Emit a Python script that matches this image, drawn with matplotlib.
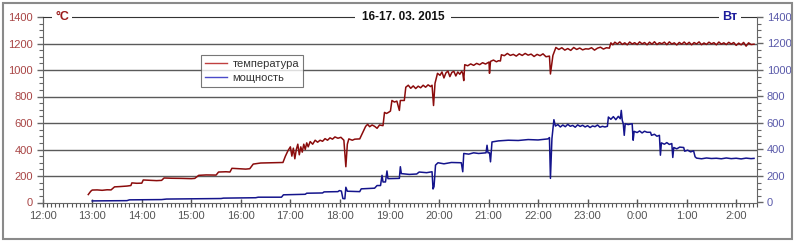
import matplotlib
matplotlib.use("Agg")
import matplotlib.pyplot as plt
from matplotlib.lines import Line2D
from matplotlib.patches import Rectangle
from matplotlib.ticker import MultipleLocator

# ---- data (hours after 12:00, values) ----
temp_t = [0.92, 0.97, 1.00, 1.10, 1.20, 1.30, 1.38, 1.45, 1.55, 1.70, 1.78, 1.80, 1.90, 2.00,
          2.03, 2.15, 2.30, 2.40, 2.45, 2.60, 2.80, 3.00, 3.07, 3.15, 3.30, 3.50, 3.55, 3.70,
          3.78, 3.82, 3.95, 4.10, 4.18, 4.25, 4.40, 4.60, 4.85, 4.90, 4.95, 5.00, 5.03, 5.06,
          5.09, 5.12, 5.15, 5.18, 5.21, 5.24, 5.27, 5.30, 5.33, 5.36, 5.40, 5.45, 5.50, 5.55,
          5.60, 5.65, 5.70, 5.75, 5.80, 5.85, 5.90, 5.96, 6.02, 6.08, 6.12, 6.15, 6.18, 6.25,
          6.30, 6.40, 6.45, 6.52, 6.56, 6.60, 6.65, 6.70, 6.75, 6.80, 6.87, 6.90, 6.94, 6.98,
          7.02, 7.05, 7.10, 7.15, 7.20, 7.22, 7.30, 7.33, 7.38, 7.43, 7.48, 7.53, 7.58, 7.63,
          7.68, 7.73, 7.78, 7.83, 7.86, 7.89, 7.92, 7.97, 8.02, 8.06, 8.10, 8.14, 8.18, 8.22,
          8.26, 8.30, 8.34, 8.38, 8.42, 8.46, 8.48, 8.50, 8.52, 8.58, 8.64, 8.70, 8.76, 8.82,
          8.88, 8.94, 9.01, 9.02, 9.04, 9.10, 9.16, 9.20, 9.24, 9.26, 9.32, 9.38, 9.44, 9.50,
          9.56, 9.62, 9.68, 9.74, 9.80, 9.86, 9.92, 9.98, 10.04, 10.10, 10.16, 10.23, 10.25,
          10.30, 10.36, 10.42, 10.48, 10.54, 10.60, 10.66, 10.72, 10.78, 10.84, 10.90, 10.96,
          11.02, 11.08, 11.14, 11.20, 11.26, 11.32, 11.38, 11.44, 11.47, 11.51, 11.55, 11.60,
          11.65, 11.70, 11.75, 11.80, 11.85, 11.90, 11.95, 12.00, 12.05, 12.10, 12.15, 12.20,
          12.25, 12.30, 12.35, 12.40, 12.45, 12.50, 12.55, 12.60, 12.65, 12.70, 12.75, 12.80,
          12.85, 12.90, 12.95, 13.00, 13.05, 13.10, 13.15, 13.20, 13.25, 13.30, 13.35, 13.40,
          13.45, 13.50, 13.55, 13.60, 13.65, 13.70, 13.75, 13.80, 13.85, 13.90, 13.95, 14.00,
          14.05, 14.10, 14.15, 14.20, 14.25, 14.30, 14.36]
temp_v = [60, 85, 94, 95, 92, 96, 95, 118, 120, 124, 128, 148, 145, 146,
          170, 168, 165, 167, 185, 183, 182, 180, 182, 205, 208, 207, 230, 232,
          230, 258, 255, 252, 255, 290, 298, 300, 302, 350, 390, 420, 350, 410,
          330, 400, 440, 360, 420, 380, 440, 400, 450, 420, 460, 440, 470, 455,
          470, 462, 482, 470, 488, 478, 495, 485, 492, 470, 270, 440, 480, 470,
          478, 480, 520, 575, 590, 572, 585, 575, 560, 585, 580, 680, 672, 680,
          690, 770, 758, 765, 695, 770, 770, 870, 885, 862, 880, 860, 878, 866,
          885, 870, 888, 875, 885, 732, 900, 975, 960, 985, 940, 978, 992, 950,
          982, 990, 955, 985, 968, 990, 975, 920, 1040, 1032, 1046, 1035, 1050, 1040,
          1055, 1045, 1060, 975, 1065, 1075, 1062, 1070, 1068, 1115, 1108, 1125, 1110, 1118,
          1105, 1122, 1110, 1125, 1112, 1120, 1102, 1118, 1108, 1122, 1100, 1105, 970,
          1110, 1170, 1155, 1168, 1150, 1162, 1148, 1170, 1155, 1166, 1152, 1160,
          1158, 1168, 1150, 1165, 1172, 1158, 1168, 1165, 1205, 1190, 1210, 1196,
          1212, 1193, 1205, 1190, 1211, 1196, 1206, 1192, 1212, 1197, 1207, 1190,
          1210, 1195, 1213, 1192, 1206, 1198, 1210, 1191, 1212, 1196, 1205, 1189,
          1208, 1195, 1211, 1193, 1209, 1190, 1207, 1196, 1212, 1191, 1204, 1193,
          1210, 1197, 1206, 1190, 1211, 1195, 1205, 1192, 1209, 1196, 1207, 1186,
          1203, 1190, 1208, 1180, 1205, 1192, 1195]

power_t = [1.00, 1.70, 1.75, 2.40, 2.50, 3.60, 3.65, 4.30, 4.35, 4.82, 4.86, 5.30, 5.33, 5.65,
           5.68, 5.96, 5.99, 6.03, 6.06, 6.10, 6.12, 6.15, 6.40, 6.43, 6.70, 6.75, 6.82, 6.85,
           6.87, 6.92, 6.95, 6.97, 7.20, 7.22, 7.24, 7.40, 7.55, 7.60, 7.75, 7.86, 7.88, 7.90,
           7.93, 7.98, 8.10, 8.25, 8.45, 8.48, 8.50, 8.60, 8.70, 8.80, 8.95, 8.97, 8.99, 9.02,
           9.04, 9.07, 9.20, 9.40, 9.60, 9.80, 10.00, 10.20, 10.23, 10.25, 10.28, 10.32, 10.35,
           10.40, 10.45, 10.50, 10.55, 10.60, 10.65, 10.70, 10.75, 10.80, 10.85, 10.90, 10.95,
           11.00, 11.05, 11.10, 11.15, 11.20, 11.25, 11.30, 11.35, 11.40, 11.42, 11.47, 11.52,
           11.57, 11.62, 11.66, 11.68, 11.70, 11.72, 11.74, 11.76, 11.82, 11.90, 11.92, 11.94,
           12.00, 12.05, 12.10, 12.15, 12.20, 12.27, 12.29, 12.35, 12.40, 12.45, 12.47, 12.49,
           12.55, 12.60, 12.65, 12.70, 12.72, 12.74, 12.80, 12.86, 12.94, 12.96, 13.02, 13.08,
           13.14, 13.17, 13.20, 13.30, 13.40, 13.50, 13.60, 13.70, 13.80, 13.90, 14.00, 14.10,
           14.20, 14.30, 14.36]
power_v = [12, 14, 20, 22, 26, 30, 33, 36, 40, 40, 58, 62, 70, 72,
           80, 82, 90, 86, 30, 28, 115, 85, 82, 103, 108, 128, 128, 205,
           155, 155, 238, 180, 182, 270, 218, 212, 215, 230, 225, 232, 102, 120,
           282, 300, 292, 302, 300, 232, 370, 365, 375, 370, 375, 432, 375, 375,
           307, 457, 465, 470, 468, 475, 472, 480, 490, 182, 482, 625, 577,
           588, 570, 585, 572, 590, 575, 582, 568, 586, 574, 583, 570,
           580, 566, 578, 572, 585, 568, 575, 570, 575, 645, 628, 648,
           625, 650, 632, 695, 620, 595, 507, 595, 588, 595, 470, 537,
           528, 540, 525, 538, 530, 530, 507, 515, 500, 507, 357, 450,
           440, 452, 438, 445, 340, 415, 405, 418, 415, 387, 395, 382,
           390, 345, 335, 330, 336, 332, 334, 330, 336, 331, 334, 329,
           335, 331, 333]

hour_labels = ["12:00", "13:00", "14:00", "15:00", "16:00", "17:00", "18:00", "19:00",
               "20:00", "21:00", "22:00", "23:00", "0:00", "1:00", "2:00"]
y_ticks = [0, 200, 400, 600, 800, 1000, 1200, 1400]
title = "16-17. 03. 2015"
left_unit = "°C"
right_unit = "Вт"
series_names = ["температура", "мощность"]

plt.rcParams['font.family'] = ['Liberation Sans', 'DejaVu Sans']

fig = plt.figure(figsize=(7.99, 2.46), dpi=100)
fig.patches.append(Rectangle((3/799, 1-239/246), 789/799, 236/246, transform=fig.transFigure,
                             fill=False, edgecolor='#8a8a8a', linewidth=1.5))
ax1 = fig.add_axes([42.7/799, 1-202.5/246, (757-42.7)/799, 185.5/246])
ax2 = ax1.twinx()

red = '#8b0c0c'
blue = '#14148c'
ax1.plot(temp_t, temp_v, color=red, lw=1.1, zorder=3)
ax2.plot(power_t, power_v, color=blue, lw=1.1, zorder=3)

for ax in (ax1, ax2):
    ax.set_xlim(0, 14.42)
    ax.set_ylim(0, 1400)
    ax.set_yticks(y_ticks)
    ax.yaxis.set_minor_locator(MultipleLocator(50))

ax1.set_xticks(range(len(hour_labels)))
ax1.set_xticklabels(hour_labels)
ax1.xaxis.set_minor_locator(MultipleLocator(1/12))
ax1.tick_params(axis='x', which='major', direction='inout', length=6, width=1, colors='#555555',
                labelsize=8, pad=3, labelcolor='#555555')
ax1.tick_params(axis='x', which='minor', direction='out', length=3, width=0.8, colors='#555555')
ax1.tick_params(axis='y', which='major', direction='out', length=4, width=1, colors='#666666',
                labelcolor='#a84444', labelsize=8, pad=3)
ax1.tick_params(axis='y', which='minor', direction='out', length=3, width=0.8, colors='#666666')
ax2.tick_params(axis='y', which='major', direction='out', length=4, width=1, colors='#666666',
                labelcolor='#5a5aaa', labelsize=8, pad=3)
ax2.tick_params(axis='y', which='minor', direction='out', length=3, width=0.8, colors='#666666')

for v in y_ticks[1:-1]:
    ax1.axhline(v, color='#5a5a5a', lw=1.0, zorder=1)

for s in ('left', 'bottom', 'right'):
    ax1.spines[s].set_color('#666666')
ax1.spines['right'].set_visible(False)
ax1.spines['top'].set_color('#333333')
for s in ('left', 'bottom', 'top'):
    ax2.spines[s].set_visible(False)
ax2.spines['right'].set_color('#666666')

box = dict(facecolor='white', edgecolor='none', pad=2.5)
ax2.text((62-42.7)/714.3, 1.0, left_unit, transform=ax2.transAxes, ha='center', va='center',
         fontsize=9, fontweight='bold', color='#9a1a1a', bbox=box, zorder=10)
ax2.text((403-42.7)/714.3, 1.0, title, transform=ax2.transAxes, ha='center', va='center',
         fontsize=8.5, fontweight='bold', color='#111111',
         bbox=dict(facecolor='white', edgecolor='none', pad=5), zorder=10)
ax2.text((730-42.7)/714.3, 1.0, right_unit, transform=ax2.transAxes, ha='center', va='center',
         fontsize=9, fontweight='bold', color='#1c1c9c', bbox=box, zorder=10)

handles = [Line2D([], [], color='#c04040', lw=1), Line2D([], [], color='#4a4ac8', lw=1)]
leg = ax2.legend(handles, series_names, loc='upper left',
                 bbox_to_anchor=((201-42.7)/714.3, (202.5-55)/185.5),
                 borderaxespad=0, fontsize=8, frameon=True, fancybox=False, handlelength=2.0,
                 handletextpad=0.5, borderpad=0.35, labelspacing=0.35)
leg.get_frame().set_edgecolor('#555555')
leg.get_frame().set_linewidth(0.8)
for t in leg.get_texts():
    t.set_color('#333333')
leg.set_zorder(20)

fig.savefig('out.png', dpi=100)
